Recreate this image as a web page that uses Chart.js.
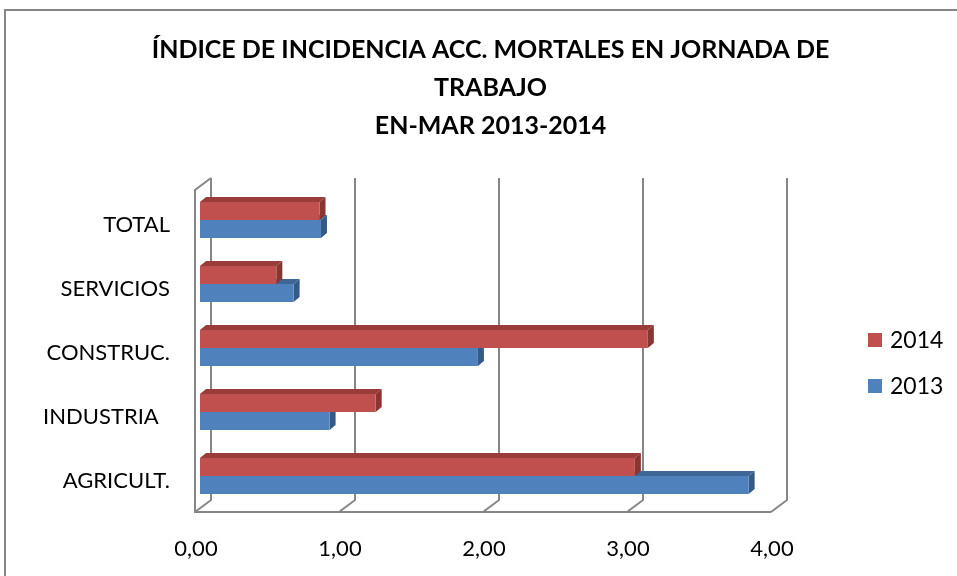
<!DOCTYPE html>
<html>
<head>
<meta charset="utf-8">
<script src="https://cdn.jsdelivr.net/npm/chart.js@4.4.1/dist/chart.umd.min.js"></script>
<style>
  html, body { margin: 0; padding: 0; background: #fff; }
  #wrap { width: 957px; height: 576px; }
</style>
</head>
<body>
<div id="wrap"><canvas id="incidenciaChart" width="957" height="576"></canvas></div>
<script>
// Datos
const categories = ["TOTAL", "SERVICIOS", "CONSTRUC.", "INDUSTRIA  ", "AGRICULT."]
const seriesLabels = ["2014", "2013"]
const values2014 = [0.83, 0.53, 3.11, 1.22, 3.02]
const values2013 = [0.84, 0.65, 1.93, 0.90, 3.81]
const xTicks = [0, 1, 2, 3, 4]
const titleLines = ["ÍNDICE DE INCIDENCIA ACC. MORTALES EN JORNADA DE", "TRABAJO", "EN-MAR 2013-2014"]

const RED = "#C0504D"
const BLUE = "#4F81BD"
const GRID = "#868686"
const FONT = "Lato, 'Open Sans', sans-serif"

// darker faces for the fake 3D bars
const faceColors = {
  [RED]: { top: "#9A3C39", side: "#8A3532" },
  [BLUE]: { top: "#3E6796", side: "#345B88" },
}

const fmt = (v) => v.toFixed(2).replace(".", ",")

// frame, back wall, floor and bar sides
const frame3d = {
  id: "frame3d",
  beforeDraw(chart) {
    const { ctx } = chart
    ctx.save()
    ctx.fillStyle = "#fff"
    ctx.fillRect(0, 0, chart.width, chart.height)
    ctx.strokeStyle = GRID
    ctx.lineWidth = 2
    ctx.beginPath()
    ctx.moveTo(5, chart.height + 2)
    ctx.lineTo(5, 10)
    ctx.lineTo(chart.width + 2, 10)
    ctx.stroke()
    ctx.restore()
  },
  beforeDatasetsDraw(chart) {
    const { ctx, chartArea, scales } = chart
    const x = scales.x
    const backTop = chartArea.top - 10
    const frontTop = chartArea.top + 2
    const backFloor = chartArea.bottom - 8
    const frontFloor = chartArea.bottom + 4
    const back = (v) => x.getPixelForValue(v) + 11
    const front = (v) => x.getPixelForValue(v) - 5

    ctx.save()
    ctx.strokeStyle = GRID
    ctx.lineWidth = 2
    ctx.lineJoin = "miter"
    ctx.beginPath()
    xTicks.forEach((v) => {
      ctx.moveTo(back(v), backTop)
      ctx.lineTo(back(v), backFloor)
      ctx.lineTo(front(v), frontFloor)
    })
    const first = xTicks[0]
    const last = xTicks[xTicks.length - 1]
    ctx.moveTo(back(first), backTop)
    ctx.lineTo(front(first), frontTop)
    ctx.lineTo(front(first), frontFloor)
    ctx.lineTo(front(last), frontFloor)
    ctx.stroke()

    // top and side faces, lower series first
    const dx = 6
    const dy = 5
    for (let d = chart.data.datasets.length - 1; d >= 0; d--) {
      const ds = chart.data.datasets[d]
      const col = faceColors[ds.backgroundColor]
      chart.getDatasetMeta(d).data.forEach((bar) => {
        const { x: xe, y, base, height } = bar.getProps(["x", "y", "base", "height"], true)
        const t = y - height / 2
        const b = y + height / 2
        ctx.fillStyle = col.top
        ctx.beginPath()
        ctx.moveTo(base, t)
        ctx.lineTo(base + dx, t - dy)
        ctx.lineTo(xe + dx, t - dy)
        ctx.lineTo(xe, t)
        ctx.closePath()
        ctx.fill()
        ctx.fillStyle = col.side
        ctx.beginPath()
        ctx.moveTo(xe, t)
        ctx.lineTo(xe + dx, t - dy)
        ctx.lineTo(xe + dx, b - dy)
        ctx.lineTo(xe, b)
        ctx.closePath()
        ctx.fill()
      })
    }
    ctx.restore()
  },
  afterDraw(chart) {
    // legend on the right
    const { ctx } = chart
    ctx.save()
    ctx.font = "23px " + FONT
    ctx.textBaseline = "middle"
    ctx.textAlign = "left"
    chart.data.datasets.forEach((ds, i) => {
      const cy = 340 + i * 46
      ctx.fillStyle = ds.backgroundColor
      ctx.fillRect(868, cy - 7, 14, 14)
      ctx.fillStyle = "#000"
      ctx.fillText(ds.label, 890, cy + 1)
    })
    ctx.restore()
  },
}

new Chart(document.getElementById("incidenciaChart"), {
  type: "bar",
  data: {
    labels: categories,
    datasets: [
      {
        label: seriesLabels[0],
        data: values2014,
        backgroundColor: RED,
        barPercentage: 1,
        categoryPercentage: 0.5625,
      },
      {
        label: seriesLabels[1],
        data: values2013,
        backgroundColor: BLUE,
        barPercentage: 1,
        categoryPercentage: 0.5625,
      },
    ],
  },
  options: {
    indexAxis: "y",
    responsive: false,
    animation: false,
    layout: {
      padding: { left: 24, right: 0, top: 0, bottom: 0 },
    },
    plugins: {
      legend: { display: false },
      tooltip: { enabled: false },
      title: {
        display: true,
        text: titleLines,
        color: "#000",
        font: { family: FONT, size: 25, weight: "bold", lineHeight: 1.52 },
        padding: { top: 31, bottom: 43 },
      },
    },
    scales: {
      x: {
        min: 0,
        max: 4,
        grid: { display: false },
        border: { display: false },
        afterBuildTicks: (axis) => {
          axis.ticks = xTicks.map((v) => ({ value: v }))
        },
        afterFit: (axis) => {
          axis.height = 68
        },
        ticks: {
          callback: (value) => fmt(value),
          color: "#000",
          padding: 20,
          labelOffset: -4,
          font: { family: FONT, size: 22 },
        },
      },
      y: {
        grid: { display: false },
        border: { display: false },
        afterFit: (axis) => {
          axis.width = 176
        },
        ticks: {
          color: "#000",
          padding: 22,
          labelOffset: 5,
          font: { family: FONT, size: 22 },
        },
      },
      yRight: {
        type: "category",
        labels: categories,
        position: "right",
        grid: { display: false },
        border: { display: false },
        ticks: { display: false },
        afterFit: (axis) => {
          axis.width = 181
        },
      },
    },
  },
  plugins: [frame3d],
})
</script>
</body>
</html>
